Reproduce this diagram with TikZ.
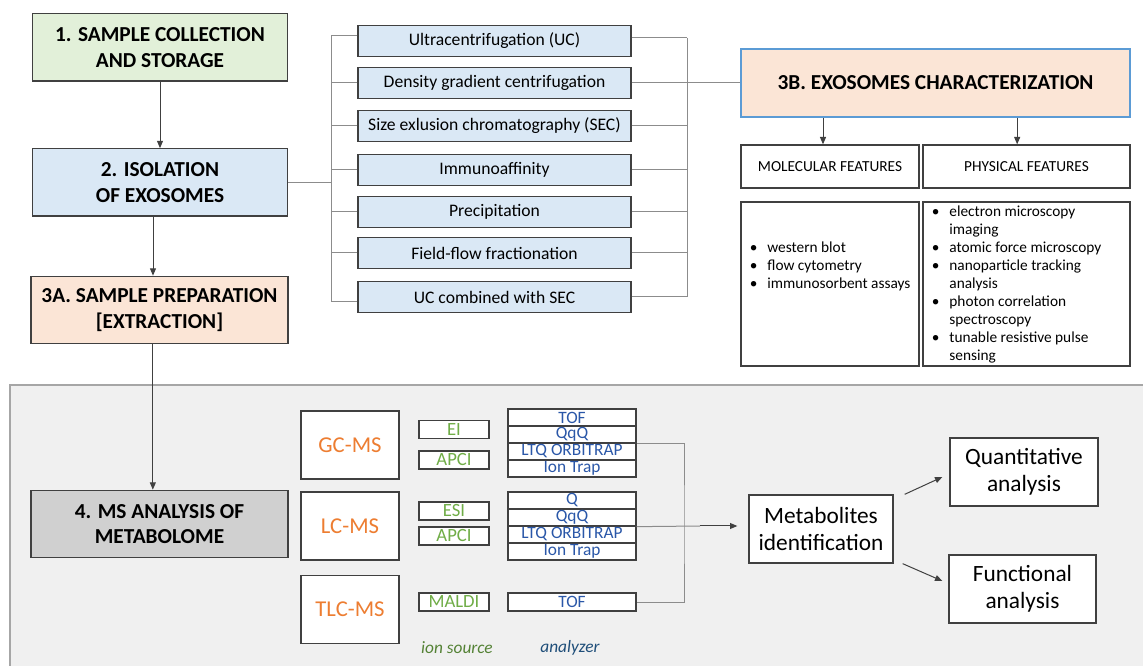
\documentclass[tikz,border=0pt]{standalone}
\usepackage{fontspec}
\setmainfont{Carlito}
\usetikzlibrary{arrows.meta}

\definecolor{boxline}{HTML}{404040}
\definecolor{collfill}{HTML}{E2F0D9}
\definecolor{isofill}{HTML}{DAE8F5}
\definecolor{prepfill}{HTML}{FBE5D6}
\definecolor{msfill}{HTML}{D0D0D0}
\definecolor{charline}{HTML}{5B9BD5}
\definecolor{panelfill}{HTML}{F0F0F0}
\definecolor{panelline}{HTML}{A6A6A6}
\definecolor{linkc}{HTML}{8C8C8C}
\definecolor{techc}{HTML}{ED7D31}
\definecolor{ionc}{HTML}{70AD47}
\definecolor{anac}{HTML}{2A57A8}
\definecolor{srcc}{HTML}{548235}
\definecolor{anlc}{HTML}{1F4E79}

\newcommand{\bltlist}[1]{\begin{tabular}{@{}l@{\hspace{7.5pt}}l@{}}#1\end{tabular}}

\tikzset{
  box/.style={draw=boxline,line width=1pt,rectangle,inner sep=0pt,align=center},
  head/.style={box,font=\fontsize{16}{19}\selectfont\bfseries,minimum width=191pt,minimum height=50.5pt},
  method/.style={box,fill=isofill,font=\fontsize{13.2}{15}\selectfont,minimum width=204.75pt,minimum height=23.25pt},
  feat/.style={box,fill=white,font=\fontsize{11.5}{13.5}\selectfont,minimum height=32.25pt},
  listtext/.style={inner sep=0pt,anchor=west,font=\fontsize{11.5}{13.5}\selectfont},
  tech/.style={box,fill=white,text=techc,font=\fontsize{17}{19}\selectfont,minimum width=73.5pt,minimum height=51pt},
  ion/.style={box,fill=white,text=ionc,font=\fontsize{14}{15}\selectfont,minimum width=52.5pt,minimum height=13.5pt},
  ana/.style={box,fill=white,text=anac,font=\fontsize{13}{14}\selectfont,minimum width=96pt,minimum height=12.75pt},
  res/.style={box,fill=white,font=\fontsize{17.5}{20}\selectfont,minimum height=51pt},
  link/.style={draw=linkc,line width=0.75pt},
  arr/.style={draw=boxline,line width=0.75pt,-{Triangle[length=5.5pt,width=4.5pt]}}
}

\begin{document}
\begin{tikzpicture}[x=0.75pt,y=-0.75pt]
	\useasboundingbox (0,0) rectangle (1143,666);
	% MS panel
	\fill[panelfill] (10,385) rectangle (1143,666);
	\draw[panelline,line width=1pt] (10,666) -- (10,385) -- (1143,385);

	% main steps
	\node[head,fill=collfill] (s1) at (160,47.5) {1. SAMPLE COLLECTION\\AND STORAGE};
	\node[head,fill=isofill] (s2) at (160,182.5) {2. ISOLATION\\OF EXOSOMES};
	\node[head,fill=prepfill,minimum width=192.75pt] (s3a) at (159.5,310) {3A. SAMPLE PREPARATION\\{[}EXTRACTION{]}};
	\node[head,fill=msfill,minimum width=192.75pt] (s4) at (159.5,524) {4. MS ANALYSIS OF\\METABOLOME};
	\draw[arr] (s1) -- (s2);
	\draw[arr] ([xshift=-5.25pt]s2.south) -- ([xshift=-5.25pt]s2.south |- s3a.north);
	\draw[arr] ([xshift=-5pt]s3a.south) -- ([xshift=-5pt]s3a.south |- s4.north);

	% isolation methods
	\node[method] (uc) at (494.5,41) {Ultracentrifugation (UC)};
	\node[method] (dgc) at (494.5,83) {Density gradient centrifugation};
	\node[method] (sec) at (494.5,126) {Size exlusion chromatography (SEC)};
	\node[method] (ia) at (494.5,170) {Immunoaffinity};
	\node[method] (prc) at (494.5,212) {Precipitation};
	\node[method] (fff) at (494.5,253) {Field-flow fractionation};
	\node[method] (ucs) at (494.5,297) {UC combined with SEC};
	\coordinate (lbt) at (331,36);
	\coordinate (lbb) at (331,302);
	\coordinate (rbt) at (687,38);
	\coordinate (rbb) at (687,297);
	\draw[link] (lbt) -- (lbb) (rbt) -- (rbb);
	\draw[link] (s2.east) -- (s2.east -| lbt);
	\draw[link] ([yshift=3.75pt]uc.west) -- (lbt) (dgc.west) -- (dgc.west -| lbt)
		(sec.west) -- (sec.west -| lbt) (ia.west) -- (ia.west -| lbt)
		(prc.west) -- (prc.west -| lbt) (fff.west) -- (fff.west -| lbt)
		([yshift=-3.75pt]ucs.west) -- (lbb);
	\draw[link] ([yshift=2.25pt]uc.east) -- (rbt) (dgc.east) -- (dgc.east -| rbt)
		(sec.east) -- (sec.east -| rbt) (ia.east) -- (ia.east -| rbt)
		(prc.east) -- (prc.east -| rbt) (fff.east) -- (fff.east -| rbt)
		(ucs.east) -- (ucs.east -| rbt);

	% characterization
	\node[box,draw=charline,line width=1.2pt,fill=prepfill,font=\fontsize{16}{19}\selectfont\bfseries,minimum width=291.75pt,minimum height=51pt] (s3b) at (935.5,83) {3B. EXOSOMES CHARACTERIZATION};
	\draw[link] (dgc.east -| rbt) -- (s3b.west);
	\node[feat,minimum width=133.5pt] (molf) at (830,166.5) {MOLECULAR FEATURES};
	\node[feat,minimum width=155.25pt] (phyf) at (1026.5,166.5) {PHYSICAL FEATURES};
	\draw[arr] ([xshift=-5.25pt]molf.north |- s3b.south) -- ([xshift=-5.25pt]molf.north);
	\draw[arr] ([xshift=-7pt]phyf.north |- s3b.south) -- ([xshift=-7pt]phyf.north);
	\node[box,minimum width=133.5pt,minimum height=123pt] (moll) at (830,284) {};
	\node[box,minimum width=155.25pt,minimum height=123pt] (phyl) at (1026.5,284) {};
	\node[listtext] (molt) at (749.5,267) {\bltlist{\textbullet & western blot\\ \textbullet & flow cytometry\\ \textbullet & immunosorbent assays}};
	\node[listtext] (phyt) at (931.5,284.5) {\bltlist{\textbullet & electron microscopy\\ & imaging\\ \textbullet & atomic force microscopy\\ \textbullet & nanoparticle tracking\\ & analysis\\ \textbullet & photon correlation\\ & spectroscopy\\ \textbullet & tunable resistive pulse\\ & sensing}};

	% MS techniques
	\node[tech] (gc) at (350,445) {GC-MS};
	\node[tech] (lc) at (350,526) {LC-MS};
	\node[tech] (tlc) at (350,609.5) {TLC-MS};
	\node[ion] (ei) at (454,429.5) {EI};
	\node[ion] (apgc) at (454,460) {APCI};
	\node[ion] (esi) at (454,511) {ESI};
	\node[ion] (aplc) at (454,536) {APCI};
	\node[ion] (mal) at (454,602) {MALDI};
	\node[ana] (gca1) at (572,417.5) {TOF};
	\node[ana] (gca2) at (572,434.5) {QqQ};
	\node[ana] (gca3) at (572,451.5) {LTQ ORBITRAP};
	\node[ana] (gca4) at (572,468.5) {Ion Trap};
	\node[ana] (lca1) at (572,500.5) {Q};
	\node[ana] (lca2) at (572,517.5) {QqQ};
	\node[ana] (lca3) at (572,534.5) {LTQ ORBITRAP};
	\node[ana] (lca4) at (572,551.5) {Ion Trap};
	\node[ana,minimum height=13.5pt] (tlca) at (572,602) {TOF};
	\node[font=\fontsize{13}{14}\selectfont\itshape,text=srcc] (srcl) at (457,648) {ion source};
	\node[font=\fontsize{13}{14}\selectfont\itshape,text=anlc] (anll) at (570,648) {analyzer};

	% results
	\node[res,minimum width=108pt] (met) at (821,529) {Metabolites\\identification};
	\node[res,minimum width=111pt] (quant) at (1024,472) {Quantitative\\analysis};
	\node[res,minimum width=110.25pt] (func) at (1022.5,589) {Functional\\analysis};
	\coordinate (msj) at (684,526);
	\coordinate (ida) at (700,526);
	\draw[link] (gca2.south east) -| (msj) |- (tlca.east);
	\draw[link] (lca2.south east) -- (ida);
	\draw[arr,shorten >=8.25pt] (ida) -- (ida -| met.west);
	\draw[arr] ([xshift=8.25pt]met.north east) -- ([xshift=-5.25pt,yshift=-3.75pt]quant.west);
	\draw[arr] ([xshift=6.75pt]met.south east) -- ([xshift=-4.5pt,yshift=6pt]func.west);
\end{tikzpicture}
\end{document}
